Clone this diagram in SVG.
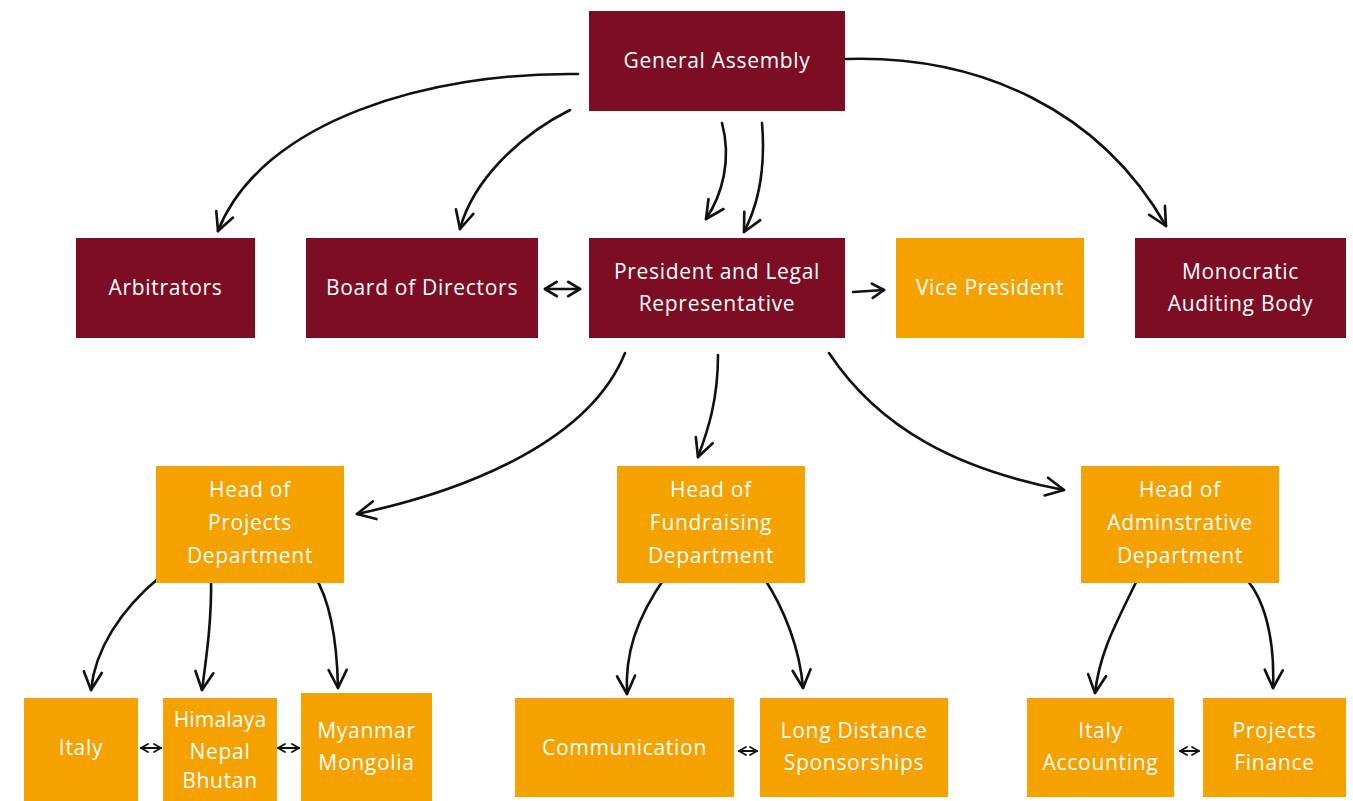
<svg xmlns="http://www.w3.org/2000/svg" width="1353" height="801" viewBox="0 0 1353 801">
<defs>
<style>
.m{fill:#7d0d22}
.o{fill:#f5a100}
text{font-family:"Open Sans","Liberation Sans",sans-serif;font-size:21px;fill:#ffffff;text-anchor:middle;letter-spacing:0.7px}
.c{fill:none;stroke:#111;stroke-width:2.6;stroke-linecap:round}
.t{fill:none;stroke:#111;stroke-width:1.8;stroke-linecap:round}
</style>
<marker id="ah" viewBox="0 0 20 20" refX="18" refY="10" markerUnits="userSpaceOnUse" markerWidth="24" markerHeight="24" orient="auto-start-reverse">
<path d="M3,2.5 L18,10 L3,17.5" fill="none" stroke="#111" stroke-width="2.2" stroke-linecap="round" stroke-linejoin="round"/>
</marker>
<marker id="sh" viewBox="0 0 20 20" refX="18" refY="10" markerUnits="userSpaceOnUse" markerWidth="10" markerHeight="10" orient="auto-start-reverse">
<path d="M4,2 L18,10 L4,18" fill="none" stroke="#111" stroke-width="3.5" stroke-linecap="round" stroke-linejoin="round"/>
</marker>
<marker id="mh" viewBox="0 0 20 20" refX="18" refY="10" markerUnits="userSpaceOnUse" markerWidth="18" markerHeight="18" orient="auto-start-reverse">
<path d="M5,2 L18,10 L5,18" fill="none" stroke="#111" stroke-width="3" stroke-linecap="round" stroke-linejoin="round"/>
</marker>
</defs>
<rect width="1353" height="801" fill="#ffffff"/>

<g id="connectors">
<path class="c" d="M578,74 C 430,72 262,120 218,231" marker-end="url(#ah)"/>
<path class="c" d="M570,110 C 520,135 473,180 460,229" marker-end="url(#ah)"/>
<path class="c" d="M722,123 C 732,160 722,195 706,219" marker-end="url(#ah)"/>
<path class="c" d="M762,123 C 766,170 758,205 744,232" marker-end="url(#ah)"/>
<path class="c" d="M846,59 C 980,55 1100,110 1166,226" marker-end="url(#ah)"/>
<path class="c" d="M545,289 L580,289" marker-start="url(#mh)" marker-end="url(#mh)"/>
<path class="c" d="M853,292 L884,290" marker-end="url(#mh)"/>
<path class="c" d="M625,353 C 590,440 470,490 357,514" marker-end="url(#ah)"/>
<path class="c" d="M718,355 C 718,400 708,430 698,457" marker-end="url(#ah)"/>
<path class="c" d="M829,353 C 880,430 960,470 1064,490" marker-end="url(#ah)"/>
<path class="c" d="M160,577 C 120,610 95,650 91,690" marker-end="url(#ah)"/>
<path class="c" d="M211,577 C 212,620 206,660 202,690" marker-end="url(#ah)"/>
<path class="c" d="M314,575 C 330,600 337,640 338,688" marker-end="url(#ah)"/>
<path class="c" d="M666,576 C 635,620 625,655 627,694" marker-end="url(#ah)"/>
<path class="c" d="M764,578 C 785,610 800,650 803,688" marker-end="url(#ah)"/>
<path class="c" d="M1138,578 C 1118,620 1100,650 1095,693" marker-end="url(#ah)"/>
<path class="c" d="M1241,574 C 1265,595 1275,640 1273,688" marker-end="url(#ah)"/>
<path class="t" d="M141,748 L161,748" marker-start="url(#sh)" marker-end="url(#sh)"/>
<path class="t" d="M278,748 L299,748" marker-start="url(#sh)" marker-end="url(#sh)"/>
<path class="t" d="M739,751 L757,751" marker-start="url(#sh)" marker-end="url(#sh)"/>
<path class="t" d="M1180,751 L1199,751" marker-start="url(#sh)" marker-end="url(#sh)"/>
</g>

<g id="general-assembly"><rect class="m" x="589" y="11" width="256" height="100"/><text x="717" y="68">General Assembly</text></g>
<g id="arbitrators"><rect class="m" x="76" y="238" width="179" height="100"/><text x="165.5" y="295">Arbitrators</text></g>
<g id="board-of-directors"><rect class="m" x="306" y="238" width="232" height="100"/><text x="422" y="295">Board of Directors</text></g>
<g id="president"><rect class="m" x="589" y="238" width="256" height="100"/><text x="717" y="279">President and Legal</text><text x="717" y="311">Representative</text></g>
<g id="vice-president"><rect class="o" x="896" y="238" width="188" height="100"/><text x="990" y="295">Vice President</text></g>
<g id="monocratic-auditing-body"><rect class="m" x="1135" y="238" width="211" height="100"/><text x="1240.5" y="279">Monocratic</text><text x="1240.5" y="311">Auditing Body</text></g>

<g id="head-projects"><rect class="o" x="156" y="466" width="188" height="117"/><text x="250" y="497">Head of</text><text x="250" y="530">Projects</text><text x="250" y="563">Department</text></g>
<g id="head-fundraising"><rect class="o" x="617" y="466" width="188" height="117"/><text x="711" y="497">Head of</text><text x="711" y="530">Fundraising</text><text x="711" y="563">Department</text></g>
<g id="head-administrative"><rect class="o" x="1081" y="466" width="198" height="117"/><text x="1180" y="497">Head of</text><text x="1180" y="530">Adminstrative</text><text x="1180" y="563">Department</text></g>

<g id="italy"><rect class="o" x="24" y="698" width="114" height="103"/><text x="81" y="755">Italy</text></g>
<g id="himalaya"><rect class="o" x="163" y="698" width="114" height="103"/><text x="220" y="727" style="letter-spacing:0.2px">Himalaya</text><text x="220" y="759">Nepal</text><text x="220" y="788">Bhutan</text></g>
<g id="myanmar"><rect class="o" x="301" y="693" width="131" height="108"/><text x="366.5" y="738">Myanmar</text><text x="366.5" y="770">Mongolia</text></g>
<g id="communication"><rect class="o" x="515" y="698" width="219" height="99"/><text x="624.5" y="755">Communication</text></g>
<g id="long-distance"><rect class="o" x="760" y="698" width="188" height="99"/><text x="854" y="738">Long Distance</text><text x="854" y="770">Sponsorships</text></g>
<g id="italy-accounting"><rect class="o" x="1027" y="698" width="147" height="99"/><text x="1100.5" y="738">Italy</text><text x="1100.5" y="770">Accounting</text></g>
<g id="projects-finance"><rect class="o" x="1203" y="698" width="143" height="99"/><text x="1274.5" y="738">Projects</text><text x="1274.5" y="770">Finance</text></g>
</svg>
